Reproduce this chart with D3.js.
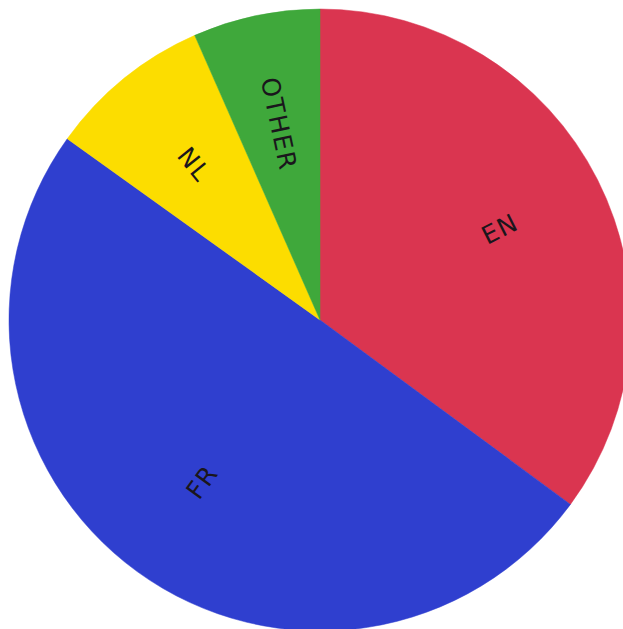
<!DOCTYPE html>
<html>
<head>
<meta charset="utf-8">
<script src="https://cdn.jsdelivr.net/npm/d3@7"></script>
<style>
  html, body { margin: 0; padding: 0; background: #fff; }
  svg { display: block; }
</style>
</head>
<body>
<svg id="chart" width="623" height="629"></svg>
<script>
// Language share, clockwise from 12 o'clock
const languages = ["EN", "FR", "NL", "OTHER"];
const shares = [35.1, 49.8, 8.5, 6.6];
const colors = ["#da3550", "#2f3fcf", "#fcdd00", "#3fa83b"];

const width = 623, height = 629;
const cx = 320, cy = 320, radius = 311, labelRadius = 201;
const spacing = 1.5;

const svg = d3.select("#chart");
const g = svg.append("g").attr("transform", `translate(${cx},${cy})`);

const data = languages.map((name, i) => ({ name, value: shares[i], color: colors[i] }));

const pie = d3.pie().value(d => d.value).sort(null);
const arc = d3.arc().innerRadius(0).outerRadius(radius);
const labelArc = d3.arc().innerRadius(labelRadius).outerRadius(labelRadius);

const arcs = pie(data);

g.selectAll("path.slice")
  .data(arcs)
  .join("path")
  .attr("class", "slice")
  .attr("d", arc)
  .attr("fill", d => d.data.color)
  .attr("stroke", d => d.data.color)
  .attr("stroke-width", 0.5);

// Labels follow the slice direction, flipped so they never read upside down
g.selectAll("text.label")
  .data(arcs)
  .join("text")
  .attr("class", "label")
  .attr("transform", d => {
    const [x, y] = labelArc.centroid(d);
    const mid = (d.startAngle + d.endAngle) / 2 * 180 / Math.PI;
    let rot = mid - 90;
    if (rot > 90) rot -= 180;
    return `translate(${x},${y}) rotate(${rot})`;
  })
  .attr("text-anchor", "middle")
  .attr("dominant-baseline", "central")
  .attr("dx", spacing / 2)
  .attr("font-family", "'DejaVu Sans', sans-serif")
  .attr("font-size", 25)
  .attr("letter-spacing", spacing)
  .attr("fill", "#1a161c")
  .text(d => d.data.name);
</script>
</body>
</html>
